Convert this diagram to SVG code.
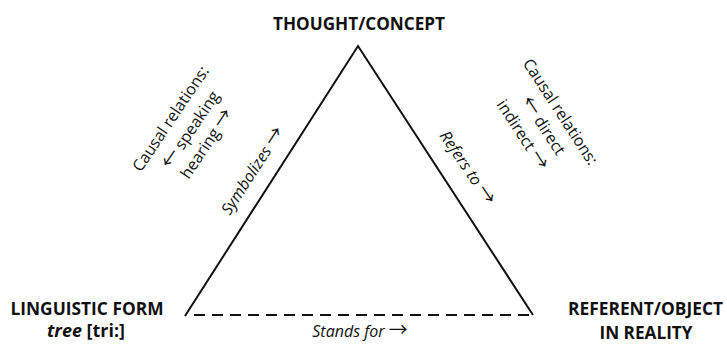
<svg xmlns="http://www.w3.org/2000/svg" width="727" height="348" viewBox="0 0 727 348">
<style>
.lbl{font-family:"Open Sans","Liberation Sans",sans-serif;font-weight:bold;font-size:17px;fill:#111;text-anchor:middle}
.rt{font-family:"Open Sans","Liberation Sans",sans-serif;font-size:16px;fill:#111;text-anchor:middle}
.it{font-style:italic}
.ar{font-family:"Noto Sans CJK JP","DejaVu Sans",sans-serif;font-style:normal;font-size:19px}
.edge{stroke:#111;stroke-width:2;fill:none}
</style>
<rect width="727" height="348" fill="#fff"/>
<g id="connectors">
<polyline class="edge" points="185,316 358,46 533,315"/>
<line class="edge" x1="194" y1="315" x2="529" y2="315" stroke-dasharray="11 7"/>
</g>
<g id="thought">
<text class="lbl" x="359" y="30" textLength="172" lengthAdjust="spacingAndGlyphs">THOUGHT/CONCEPT</text>
</g>
<g id="form">
<text class="lbl" x="87" y="315" textLength="153" lengthAdjust="spacingAndGlyphs">LINGUISTIC FORM</text>
<text class="lbl" x="86" y="337" textLength="78" lengthAdjust="spacingAndGlyphs"><tspan font-style="italic">tree</tspan> [tri:]</text>
</g>
<g id="referent">
<text class="lbl" x="645.5" y="315" textLength="155" lengthAdjust="spacingAndGlyphs">REFERENT/OBJECT</text>
<text class="lbl" x="646" y="339" textLength="93" lengthAdjust="spacingAndGlyphs">IN REALITY</text>
</g>
<g id="edge-labels">
<text class="rt it" x="360" y="337">Stands for <tspan class="ar">→</tspan></text>
<text class="rt it" transform="translate(253,171) rotate(-57)" y="5">Symbolizes <tspan class="ar">→</tspan></text>
<text class="rt it" transform="translate(467,168) rotate(56)" y="5">Refers to <tspan class="ar">→</tspan></text>
</g>
<g id="causal-left">
<text class="rt" transform="translate(171,119) rotate(-56)" y="5">Causal relations:</text>
<text class="rt" transform="translate(191,130) rotate(-56)" y="5"><tspan class="ar">←</tspan> speaking</text>
<text class="rt" transform="translate(207,144) rotate(-56)" y="5">hearing <tspan class="ar">→</tspan></text>
</g>
<g id="causal-right">
<text class="rt" transform="translate(560,112) rotate(57)" y="5">Causal relations:</text>
<text class="rt" transform="translate(543,126) rotate(57)" y="5"><tspan class="ar">←</tspan> direct</text>
<text class="rt" transform="translate(522,135) rotate(57)" y="5">indirect <tspan class="ar">→</tspan></text>
</g>
</svg>
